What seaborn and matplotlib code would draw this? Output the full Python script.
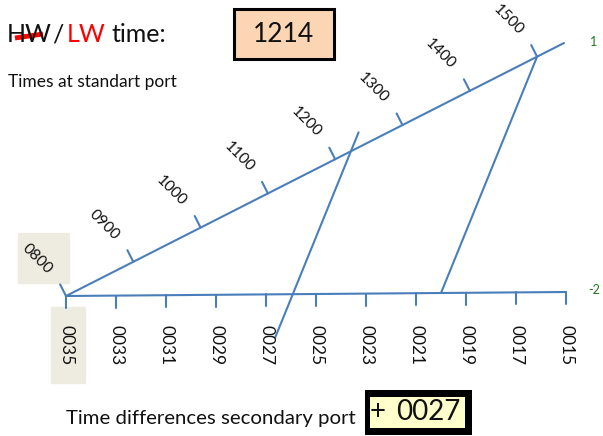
import numpy as np
import pandas as pd
import matplotlib
matplotlib.use('Agg')
import matplotlib.pyplot as plt
import matplotlib.patches as mpatches
import seaborn as sns

# ---- data ----
hour_labels = ['0800', '0900', '1000', '1100', '1200', '1300', '1400', '1500']
hours = [8, 9, 10, 11, 12, 13, 14, 15]
diff_labels = ['0035', '0033', '0031', '0029', '0027', '0025', '0023', '0021', '0019', '0017', '0015']
diff_minutes = [35, 33, 31, 29, 27, 25, 23, 21, 19, 17, 15]
hw_lw_time = '1214'
hw_lw_hours = 12 + 14 / 60
ref_time_hours = 15.0      # reference line starts at 1500
ref_diff_minutes = 20.0    # ... and meets the bottom scale at 0020
answer_sign = '+'
answer_value = '0027'
range_top = '1'
range_bottom = '-2'

sns.set_theme(style='white')
plt.rcParams['font.family'] = ['Lato', 'DejaVu Sans']

BLUE = '#4A7EBB'
INK = '#111111'

# nomogram geometry (canvas pixels)
origin = np.array([66.0, 296.0])
diag_dir = np.array([498.0, -253.0]) / 7.4   # per hour
base_dir = np.array([500.0, -4.0]) / 20.0    # per minute


def diag_pos(h):
    return origin + (h - 8) * diag_dir


def base_pos(m):
    return origin + (35 - m) * base_dir


fig = plt.figure(figsize=(6.03, 4.36), dpi=100)
ax = fig.add_axes([0, 0, 1, 1])
ax.set_xlim(0, 603)
ax.set_ylim(436, 0)
ax.axis('off')

# main scales
p_end = diag_pos(15.4)
b_end = base_pos(15)
scales = pd.DataFrame({
    'x': [origin[0], p_end[0], origin[0], b_end[0]],
    'y': [origin[1], p_end[1], origin[1], b_end[1]],
    'scale': ['time', 'time', 'diff', 'diff'],
})
sns.lineplot(data=scales, x='x', y='y', units='scale', estimator=None, sort=False,
             color=BLUE, lw=1.5, ax=ax)

# diagonal ticks + labels
u = diag_dir / np.linalg.norm(diag_dir)
perp = np.array([u[1], -u[0]])
for h, lab in zip(hours, hour_labels):
    b = diag_pos(h)
    t = b + perp * 13
    ax.plot([b[0], t[0]], [b[1], t[1]], color=BLUE, lw=1.5)
    c = b + np.array([-29, -37])
    if lab == '0800':
        ax.add_patch(mpatches.Rectangle((18, 233), 51, 50, color='#EEECE1', zorder=0))
    ax.text(c[0], c[1], lab, rotation=-45, ha='center', va='center', fontsize=11.2, color=INK)

# bottom ticks + labels
for m, lab in zip(diff_minutes, diff_labels):
    b = base_pos(m)
    ax.plot([b[0], b[0]], [b[1], b[1] + 12], color=BLUE, lw=1.5)
    if lab == '0035':
        ax.add_patch(mpatches.Rectangle((51, 307), 34, 76, color='#EEECE1', zorder=0))
    ax.text(b[0], 345, lab, rotation=270, ha='center', va='center', fontsize=12.5, color=INK)

# construction lines
p_ref = diag_pos(ref_time_hours)
q_ref = base_pos(ref_diff_minutes)
d = q_ref - p_ref
ax.plot([p_ref[0], q_ref[0]], [p_ref[1], q_ref[1]], color=BLUE, lw=1.5)
p1 = diag_pos(hw_lw_hours)
a, b = p1 - 0.08 * d, p1 + 0.79 * d
ax.plot([a[0], b[0]], [a[1], b[1]], color=BLUE, lw=1.5)

# range markers
ax.text(594, 42, range_top, color='#1E7B1E', fontsize=9, ha='center', va='center')
ax.text(594, 290, range_bottom, color='#1E7B1E', fontsize=9, ha='center', va='center')

# heading
ax.text(7, 35, 'HW', fontsize=18, va='center', ha='left', color=INK)
ax.plot([15, 43], [38, 34], color='red', lw=3.5, solid_capstyle='butt')
ax.text(52, 35, '/', fontsize=18, va='center', ha='left', color=INK)
ax.text(67, 35, 'LW', fontsize=18, va='center', ha='left', color='red')
ax.text(111, 35, 'time:', fontsize=18, va='center', ha='left', color=INK)
ax.add_patch(mpatches.Rectangle((234, 9), 100, 50, facecolor='#FCD5B4', edgecolor='black', lw=2.2))
ax.text(284, 35, hw_lw_time, fontsize=19, ha='center', va='center', color=INK)
ax.text(8, 82, 'Times at standart port', fontsize=12.5, va='center', ha='left', color=INK)

# footer
ax.text(66, 418, 'Time differences secondary port', fontsize=14.7, va='center', ha='left', color=INK)
ax.add_patch(mpatches.Rectangle((365, 390), 107, 45, facecolor='black', edgecolor='none'))
ax.add_patch(mpatches.Rectangle((370, 397), 95, 31, facecolor='#FFFFCC', edgecolor='none'))
ax.text(378, 412, answer_sign, fontsize=20, ha='center', va='center', color=INK)
ax.text(428, 412, answer_value, fontsize=20, ha='center', va='center', color=INK)

fig.savefig('out.png', dpi=100)
